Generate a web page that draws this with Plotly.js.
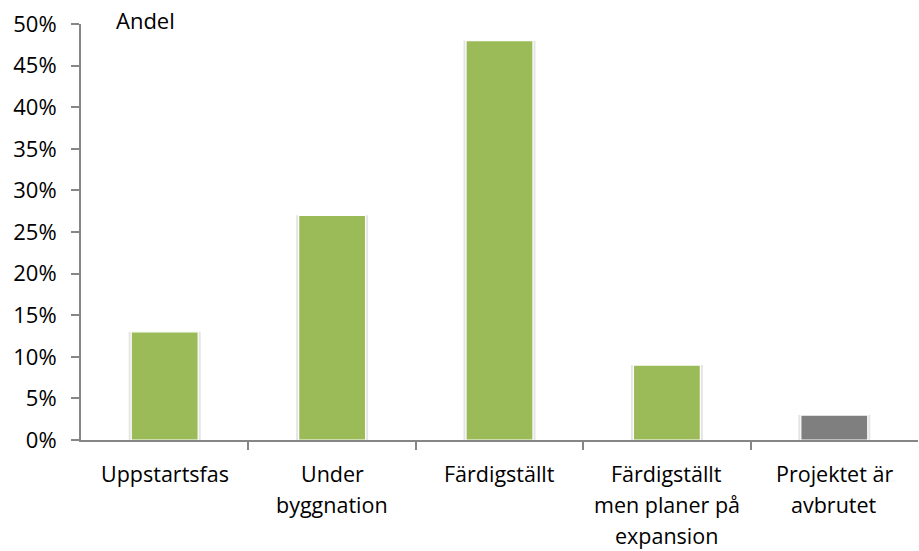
<!DOCTYPE html>
<html>
<head>
<meta charset="utf-8">
<script src="https://cdn.plot.ly/plotly-3.0.1.min.js"></script>
<style>html,body{margin:0;padding:0;background:#fff;}#chart{width:919px;height:551px;}</style>
</head>
<body>
<div id="chart"></div>
<script>
const categories = ["Uppstartsfas", "Under\nbyggnation", "Färdigställt", "Färdigställt\nmen planer på\nexpansion", "Projektet är\navbrutet"];
const values = [0.13, 0.27, 0.48, 0.09, 0.03];
const barColors = ["#9BBB59", "#9BBB59", "#9BBB59", "#9BBB59", "#7F7F7F"];
const yTickVals = [0, 0.05, 0.10, 0.15, 0.20, 0.25, 0.30, 0.35, 0.40, 0.45, 0.50];
const yTickText = ["0%", "5%", "10%", "15%", "20%", "25%", "30%", "35%", "40%", "45%", "50%"];
const seriesName = "Andel";

const font = {family: "Open Sans, Noto Sans, sans-serif", size: 22, color: "#000"};
const labelFont = {family: "Open Sans, Noto Sans, sans-serif", size: 21.5, color: "#000"};
const axisColor = "#868686";

const annotations = [];
categories.forEach((c, i) => {
  c.split("\n").forEach((line, j) => {
    annotations.push({
      x: i, xref: "x", y: 0, yref: "paper",
      text: line, showarrow: false,
      xanchor: "center", yanchor: "middle",
      yshift: -(33 + 31 * j),
      font: labelFont
    });
  });
});
annotations.push({
  x: 0.04, xref: "paper", y: 1, yref: "paper",
  text: seriesName, showarrow: false,
  xanchor: "left", yanchor: "middle", yshift: 4,
  font: font
});

const xs = categories.map((c, i) => i);
const data = [{
  type: "bar",
  x: xs, y: values, width: 0.43,
  marker: {color: "#E4E4E4", line: {width: 0}},
  hoverinfo: "none"
}, {
  type: "bar",
  x: xs, y: values, width: 0.4,
  marker: {color: barColors, line: {color: "#FFFFFF", width: 1.2}},
  hoverinfo: "none"
}];

const layout = {
  width: 919, height: 551,
  margin: {l: 81, r: 1, t: 24, b: 111},
  paper_bgcolor: "#fff", plot_bgcolor: "#fff",
  showlegend: false,
  barmode: "overlay",
  font: font,
  xaxis: {
    type: "linear",
    range: [-0.5, 4.5],
    tickvals: [0.5, 1.5, 2.5, 3.5],
    showticklabels: false,
    ticks: "outside", ticklen: 8, tickwidth: 2, tickcolor: axisColor,
    showline: true, linecolor: axisColor, linewidth: 2,
    showgrid: false, zeroline: false, fixedrange: true
  },
  yaxis: {
    range: [0, 0.5],
    tickvals: yTickVals, ticktext: yTickText,
    ticks: "outside", ticklen: 8, tickwidth: 2, tickcolor: axisColor,
    showline: true, linecolor: axisColor, linewidth: 2,
    showgrid: false, zeroline: false,
    tickfont: font, ticklabelstandoff: 10, fixedrange: true
  },
  annotations: annotations
};

Plotly.newPlot("chart", data, layout, {displayModeBar: false, staticPlot: true});
</script>
</body>
</html>
